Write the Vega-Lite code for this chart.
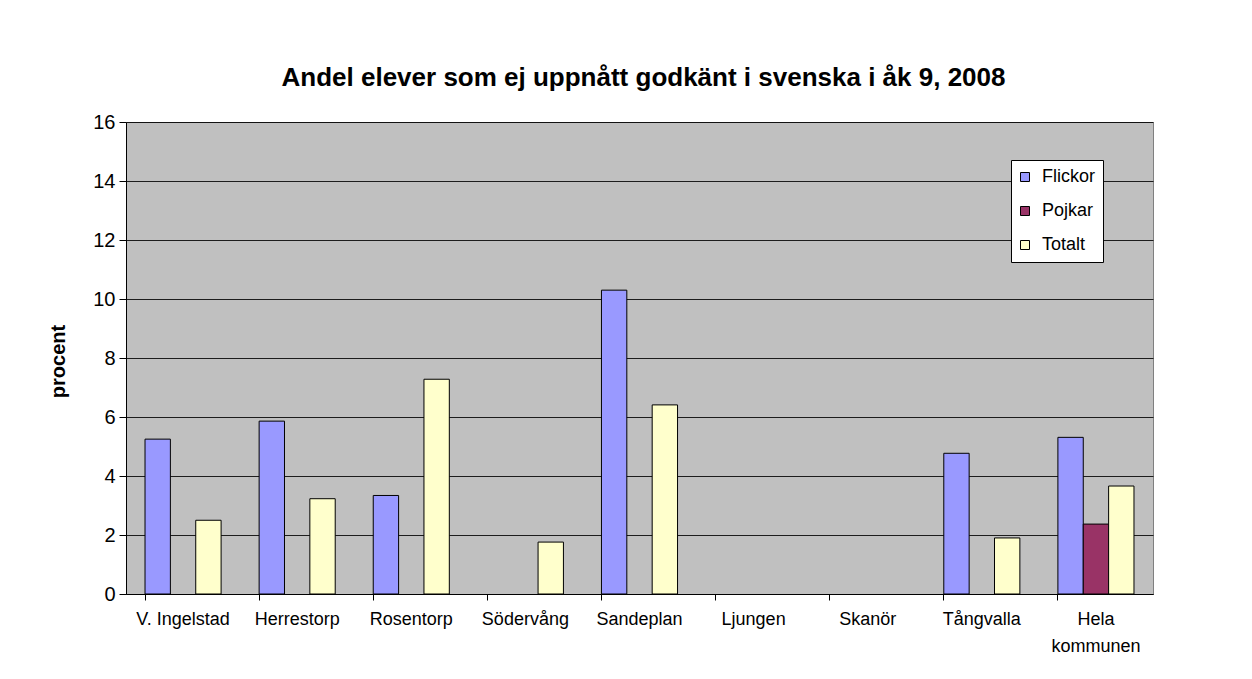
{
  "$schema": "https://vega.github.io/schema/vega-lite/v6.json",
  "autosize": "none",
  "width": 1027,
  "height": 472,
  "padding": {"left": 126, "top": 122, "right": 99, "bottom": 85},
  "background": "white",
  "title": {
    "text": "Andel elever som ej uppnått godkänt i svenska i åk 9, 2008",
    "font": "Liberation Sans",
    "fontSize": 26,
    "fontWeight": "bold",
    "color": "black",
    "anchor": "middle",
    "baseline": "alphabetic",
    "offset": 0,
    "dx": 4
  },
  "config": {
    "view": {"fill": "#C0C0C0", "stroke": "#808080", "strokeWidth": 1},
    "axis": {
      "labelFont": "Liberation Sans",
      "labelColor": "black",
      "domainColor": "black",
      "tickColor": "black",
      "titleFont": "Liberation Sans",
      "titleColor": "black"
    },
    "legend": {
      "labelFont": "Liberation Sans",
      "labelFontSize": 18,
      "labelColor": "black"
    }
  },
  "data": {
    "values": [
      {"school": "V. Ingelstad", "series": "Flickor", "value": 5.25},
      {"school": "V. Ingelstad", "series": "Totalt", "value": 2.5},
      {"school": "Herrestorp", "series": "Flickor", "value": 5.86},
      {"school": "Herrestorp", "series": "Totalt", "value": 3.23},
      {"school": "Rosentorp", "series": "Flickor", "value": 3.34},
      {"school": "Rosentorp", "series": "Totalt", "value": 7.28},
      {"school": "Södervång", "series": "Totalt", "value": 1.76},
      {"school": "Sandeplan", "series": "Flickor", "value": 10.3},
      {"school": "Sandeplan", "series": "Totalt", "value": 6.41},
      {"school": "Tångvalla", "series": "Flickor", "value": 4.77},
      {"school": "Tångvalla", "series": "Totalt", "value": 1.9},
      {"school": "Hela kommunen", "series": "Flickor", "value": 5.31},
      {"school": "Hela kommunen", "series": "Pojkar", "value": 2.37},
      {"school": "Hela kommunen", "series": "Totalt", "value": 3.66}
    ]
  },
  "mark": {"type": "bar", "stroke": "black", "strokeWidth": 1},
  "encoding": {
    "x": {
      "field": "school",
      "type": "nominal",
      "scale": {
        "domain": ["V. Ingelstad", "Herrestorp", "Rosentorp", "Södervång", "Sandeplan", "Ljungen", "Skanör", "Tångvalla", "Hela kommunen"],
        "paddingInner": 0.3333,
        "paddingOuter": 0.1667
      },
      "axis": {
        "title": null,
        "labelAngle": 0,
        "labelFontSize": 18,
        "bandPosition": 0,
        "grid": false,
        "tickSize": 6,
        "labelPadding": 10,
        "labelLineHeight": 27,
        "labelExpr": "datum.value == 'Hela kommunen' ? ['Hela', 'kommunen'] : datum.label"
      }
    },
    "xOffset": {
      "field": "series",
      "type": "nominal",
      "scale": {"domain": ["Flickor", "Pojkar", "Totalt"], "paddingInner": 0, "paddingOuter": 0}
    },
    "y": {
      "field": "value",
      "type": "quantitative",
      "scale": {"domain": [0, 16], "nice": false},
      "axis": {
        "title": "procent",
        "titleFontSize": 20,
        "titleFontWeight": "bold",
        "titleAngle": 270,
        "titleX": -68,
        "titleY": 239,
        "titleAlign": "center",
        "titleBaseline": "middle",
        "labelFontSize": 20,
        "values": [0, 2, 4, 6, 8, 10, 12, 14, 16],
        "grid": true,
        "gridColor": "black",
        "gridWidth": 1,
        "gridOpacity": 0.85,
        "tickSize": 7,
        "labelPadding": 4
      }
    },
    "color": {
      "field": "series",
      "type": "nominal",
      "scale": {"domain": ["Flickor", "Pojkar", "Totalt"], "range": ["#9999FF", "#993366", "#FFFFCC"]},
      "legend": {
        "title": null,
        "orient": "none",
        "legendX": 885,
        "legendY": 38,
        "fillColor": "white",
        "strokeColor": "black",
        "padding": 8,
        "symbolType": "square",
        "symbolSize": 81,
        "symbolOffset": -3,
        "symbolStrokeColor": "black",
        "symbolStrokeWidth": 1,
        "symbolOpacity": 1,
        "labelOffset": 8,
        "rowPadding": 16
      }
    }
  }
}
